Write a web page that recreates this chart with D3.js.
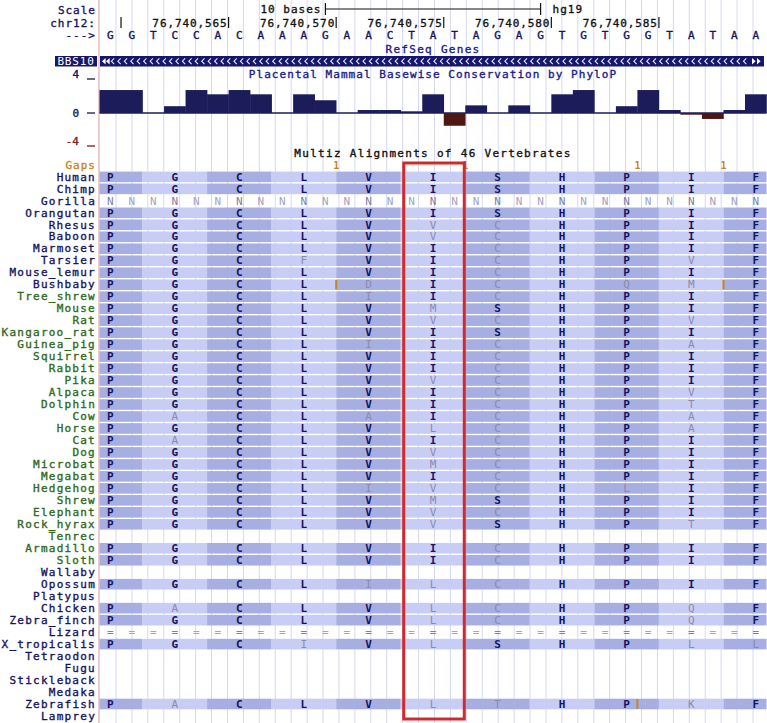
<!DOCTYPE html>
<html><head><meta charset="utf-8">
<script src="https://cdn.jsdelivr.net/npm/d3@7"></script>
<style>
html,body{margin:0;padding:0;background:#fff;}
svg{display:block;}
text{font-family:"DejaVu Sans Mono",monospace;font-size:11px;}
</style></head>
<body>
<svg id="chart" width="767" height="723"></svg>
<script>
// ---------------- DATA ----------------
const dnaBases = "GGTCCACAAAGAACTATAGAGTGTGGTATAA".split("");
const positionTicks = [
  {pos: 76740560, label: ""},
  {pos: 76740565, label: "76,740,565"},
  {pos: 76740570, label: "76,740,570"},
  {pos: 76740575, label: "76,740,575"},
  {pos: 76740580, label: "76,740,580"},
  {pos: 76740585, label: "76,740,585"}
];
const firstTickPos = 76740559; // position whose tick sits at base boundary 0
const phyloP = [2.7, 2.7, 0, 0.8, 2.7, 2.2, 2.7, 2.2, 0, 2.2, 1.5, 0, 0.35, 0.35, 0.2,
                2.2, -1.5, 0.9, 0, 0.9, 0, 2.2, 2.7, 0, 0.8, 2.7, 0.35, -0.2, -0.7, 0.35, 2.2];
const consTicks = [4, 0, -4];
const species = ["Human","Chimp","Gorilla","Orangutan","Rhesus","Baboon","Marmoset","Tarsier",
  "Mouse_lemur","Bushbaby","Tree_shrew","Mouse","Rat","Kangaroo_rat","Guinea_pig","Squirrel",
  "Rabbit","Pika","Alpaca","Dolphin","Cow","Horse","Cat","Dog","Microbat","Megabat","Hedgehog",
  "Shrew","Elephant","Rock_hyrax","Tenrec","Armadillo","Sloth","Wallaby","Opossum","Platypus",
  "Chicken","Zebra_finch","Lizard","X_tropicalis","Tetraodon","Fugu","Stickleback","Medaka",
  "Zebrafish","Lamprey"];
const speciesGroup = ["p","p","p","p","p","p","p","p","p","p",
  "m","m","m","m","m","m","m","m","m","m","m","m","m","m","m","m","m","m","m","m","m","m","m",
  "v","v","v","v","v","v","v","v","v","v","v","v","v"];
const aminoAcids = [
  "PGCLVISHPIF","PGCLVISHPIF","N","PGCLVISHPIF","PGCLVVCHPIF","PGCLVVCHPIF","PGCLVICHPIF",
  "PGCFVICHPVF","PGCLVICHPIF","PGCLDICHQMF","PGCLIICHPIF","PGCLVMSHPIF","PGCLVVCHPVF",
  "PGCLVISHPIF","PGCLIICHPAF","PGCLVICHPIF","PGCLVICHPIF","PGCLVVCHPIF","PGCLVICHPVF",
  "PGCLVICHPTF","PACLAICHPAF","PGCLVLCHPAF","PACLVICHPIF","PGCLVVCHPIF","PGCLVMCHPIF",
  "PGCLVICHPIF","PGCLIVCHLIF","PGCLVMSHPIF","PGCLVVCHPIF","PGCLVVSHPTF","",
  "PGCLVICHPIF","PGCLVICHPIF","","PGCLILCHPIF","","PACLVLCHPQF","PGCLVLCHPQF","=",
  "PGCIVLSHPLL","","","","","PACLVLTHPKF",""];
const gapMarks = [11, 17, 25, 29];
const insertions = [{sp:"Bushbaby", at:11},{sp:"Bushbaby", at:29},{sp:"Zebrafish", at:25}];
const highlightBases = [14, 17];

// ---------------- LAYOUT ----------------
const svg = d3.select("#chart");
const W = 767, H = 723;
const nBases = dnaBases.length;
const x = d3.scaleLinear().domain([0, nBases]).range([99.5, 766.5]);
const rowY = d3.scaleLinear().domain([-1, species.length - 1]).range([159.6, 159.6 + species.length * 11.98]);
const rowH = 10.6;
const yC = d3.scaleLinear().domain([-4, 4]).range([147, 79]);
const navy = "#14145e", green = "#2d6a1c", gray = "#9a9ab6", orange = "#c8841e";

// guidelines
const guideX = d3.range(41).map(k => 116 + k * 15.925);
svg.append("g").selectAll("line").data(guideX).join("line")
  .attr("x1", d => d).attr("x2", d => d).attr("y1", 0).attr("y2", H)
  .attr("stroke", "#d6d8f4").attr("stroke-width", 1);

// pink left border
svg.append("line").attr("x1", 99).attr("x2", 99).attr("y1", 0).attr("y2", H)
  .attr("stroke", "#e3aaa8").attr("stroke-width", 1.2);

// ---- Header ----
const hdr = svg.append("g");
[["Scale", 14], ["chr12:", 27], ["--->", 39]].forEach(([t, y]) => {
  hdr.append("text").attr("x", 96).attr("y", y).attr("text-anchor", "end")
    .attr("letter-spacing", "1px").attr("fill", navy).attr("class", "thick").text(t);
});
// scale bar
const sb0 = x(10.5), sb1 = x(20.5);
hdr.append("text").attr("x", sb0 - 4).attr("y", 13).attr("text-anchor", "end")
  .attr("letter-spacing", "1px").attr("fill", "#111").attr("class", "thick").text("10 bases");
hdr.append("line").attr("x1", sb0).attr("x2", sb1).attr("y1", 9).attr("y2", 9).attr("stroke", "#111").attr("stroke-width", 1.2);
[sb0, sb1].forEach(v => hdr.append("line").attr("x1", v).attr("x2", v).attr("y1", 3).attr("y2", 15).attr("stroke", "#111").attr("stroke-width", 1.2));
hdr.append("text").attr("x", sb1 + 12).attr("y", 13).attr("letter-spacing", "1px").attr("fill", "#111").attr("class", "thick").text("hg19");
// position ticks
positionTicks.forEach(t => {
  const bx = x(t.pos - firstTickPos);
  hdr.append("line").attr("x1", bx).attr("x2", bx).attr("y1", 17).attr("y2", 28).attr("stroke", "#111").attr("stroke-width", 1.2);
  if (t.label) hdr.append("text").attr("x", bx - 1).attr("y", 27).attr("text-anchor", "end")
    .attr("letter-spacing", "0.9px").attr("fill", "#111").attr("class", "thick").text(t.label);
});
// DNA letters
hdr.append("g").selectAll("text").data(dnaBases).join("text")
  .attr("x", (d, i) => x(i + 0.5)).attr("y", 39).attr("text-anchor", "middle")
  .attr("fill", navy).attr("class", "thick").text(d => d);

// ---- RefSeq track ----
const mid = (x(0) + x(nBases)) / 2;
svg.append("text").attr("x", mid).attr("y", 53).attr("text-anchor", "middle")
  .attr("letter-spacing", "1.3px").attr("fill", "#1a1a8a").attr("class", "thick").text("RefSeq Genes");
svg.append("rect").attr("x", 55).attr("y", 56).attr("width", 42).attr("height", 10.5).attr("fill", "#16166a");
svg.append("text").attr("x", 76).attr("y", 65).attr("text-anchor", "middle").attr("letter-spacing", "0.8px")
  .attr("fill", "#fff").text("BBS10");
svg.append("rect").attr("x", 100).attr("y", 56).attr("width", 664).attr("height", 10.5).attr("fill", "#16166a");
const chev = d3.range(112, 748, 6.45);
svg.append("g").selectAll("path").data(chev).join("path")
  .attr("d", d => `M${d + 2.2},58.3 L${d - 0.6},61.2 L${d + 2.2},64.1`)
  .attr("fill", "none").attr("stroke", "#e8e8ff").attr("stroke-width", 1.1);
[102, 106].forEach(v => svg.append("path").attr("d", `M${v},61.2 L${v + 3.6},58 L${v + 3.6},64.4 Z`).attr("fill", "#fff"));
[752, 757].forEach(v => svg.append("path").attr("d", `M${v + 3.6},61.2 L${v},58 L${v},64.4 Z`).attr("fill", "#fff"));

// ---- PhyloP track ----
svg.append("text").attr("x", mid).attr("y", 78).attr("text-anchor", "middle")
  .attr("letter-spacing", "1.05px").attr("fill", "#1a1a8a").attr("class", "thick").text("Placental Mammal Basewise Conservation by PhyloP");
consTicks.forEach(v => {
  const g = svg.append("g");
  const c = v < 0 ? "#7a1c14" : navy;
  const ty = v === 4 ? 78 : (v === 0 ? yC(0) + 3.5 : 145);
  g.append("text").attr("x", 79).attr("y", ty).attr("text-anchor", "end")
    .attr("fill", c).attr("class", "thick").text(String(v));
  const ly = v === 0 ? yC(0) : ty + 1;
  g.append("line").attr("x1", 87).attr("x2", 95).attr("y1", ly).attr("y2", ly)
    .attr("stroke", c).attr("stroke-width", 1.3);
});
svg.append("line").attr("x1", x(0)).attr("x2", x(nBases)).attr("y1", yC(0)).attr("y2", yC(0))
  .attr("stroke", "#1c1c5a").attr("stroke-width", 1.3);
svg.append("g").selectAll("rect").data(phyloP).join("rect")
  .attr("x", (d, i) => x(i)).attr("width", x(1) - x(0) + 0.3)
  .attr("y", d => yC(Math.max(0, d))).attr("height", d => Math.abs(yC(d) - yC(0)))
  .attr("fill", d => d >= 0 ? "#1c1c5a" : "#4e1712");

// ---- Multiz track ----
svg.append("text").attr("x", mid).attr("y", 157).attr("text-anchor", "middle")
  .attr("letter-spacing", "1.3px").attr("fill", "#111").attr("class", "thick").text("Multiz Alignments of 46 Vertebrates");
svg.append("text").attr("x", 96).attr("y", rowY(-1) + 9).attr("text-anchor", "end")
  .attr("letter-spacing", "1px").attr("fill", orange).attr("class", "thick").text("Gaps");
svg.append("g").selectAll("text").data(gapMarks).join("text")
  .attr("x", d => x(d)).attr("y", rowY(-1) + 9.5).attr("text-anchor", "middle")
  .attr("font-weight", "bold").attr("fill", orange).style("font-size", "10px").text("1");

const human = aminoAcids[0];
const rows = svg.append("g");
species.forEach((sp, i) => {
  const y0 = rowY(i);
  rows.append("text").attr("x", 96).attr("y", y0 + 9).attr("text-anchor", "end")
    .attr("letter-spacing", "1.25px").attr("class", "thick")
    .attr("fill", speciesGroup[i] === "m" ? green : navy).text(sp);
  const aa = aminoAcids[i];
  if (aa.length === 1) {
    rows.append("g").selectAll("text").data(dnaBases).join("text")
      .attr("x", (d, j) => x(j + 0.5)).attr("y", y0 + 9).attr("text-anchor", "middle")
      .attr("fill", (d, j) => j % 3 === 0 ? "#7f7fa6" : "#a4a4bf").text(aa);
    return;
  }
  if (!aa) return;
  const codons = aa.split("");
  rows.append("g").selectAll("rect").data(codons).join("rect")
    .attr("x", (d, k) => x(Math.max(0, 3 * k - 1)))
    .attr("width", (d, k) => x(Math.min(nBases, 3 * k + 2)) - x(Math.max(0, 3 * k - 1)))
    .attr("y", y0).attr("height", rowH)
    .attr("fill", (d, k) => k % 2 === 0 ? "#a6aee2" : "#c8cdf5");
  rows.append("g").selectAll("text").data(codons).join("text")
    .attr("x", (d, k) => x(3 * k + 0.5)).attr("y", y0 + 9).attr("text-anchor", "middle")
    .attr("font-weight", (d, k) => d === human[k] ? "bold" : "normal")
    .attr("fill", (d, k) => d === human[k] ? "#141462" : "#8a8ab0").text(d => d);
});
// insertion markers
svg.append("g").selectAll("line").data(insertions).join("line")
  .attr("x1", d => x(d.at)).attr("x2", d => x(d.at))
  .attr("y1", d => rowY(species.indexOf(d.sp)) + 0.5).attr("y2", d => rowY(species.indexOf(d.sp)) + rowH - 0.5)
  .attr("stroke", orange).attr("stroke-width", 2);

// bolder pixel-font look
svg.selectAll("text.thick").each(function () {
  const t = d3.select(this);
  t.attr("stroke", t.attr("fill")).attr("stroke-width", 0.35);
});

// highlight box
const hx0 = x(highlightBases[0]) + 3, hx1 = x(highlightBases[1]) - 1;
svg.append("rect").attr("x", hx0).attr("y", 163).attr("width", hx1 - hx0).attr("height", 556)
  .attr("fill", "none").attr("stroke", "#d02a2a").attr("stroke-width", 3);
</script>
</body></html>
